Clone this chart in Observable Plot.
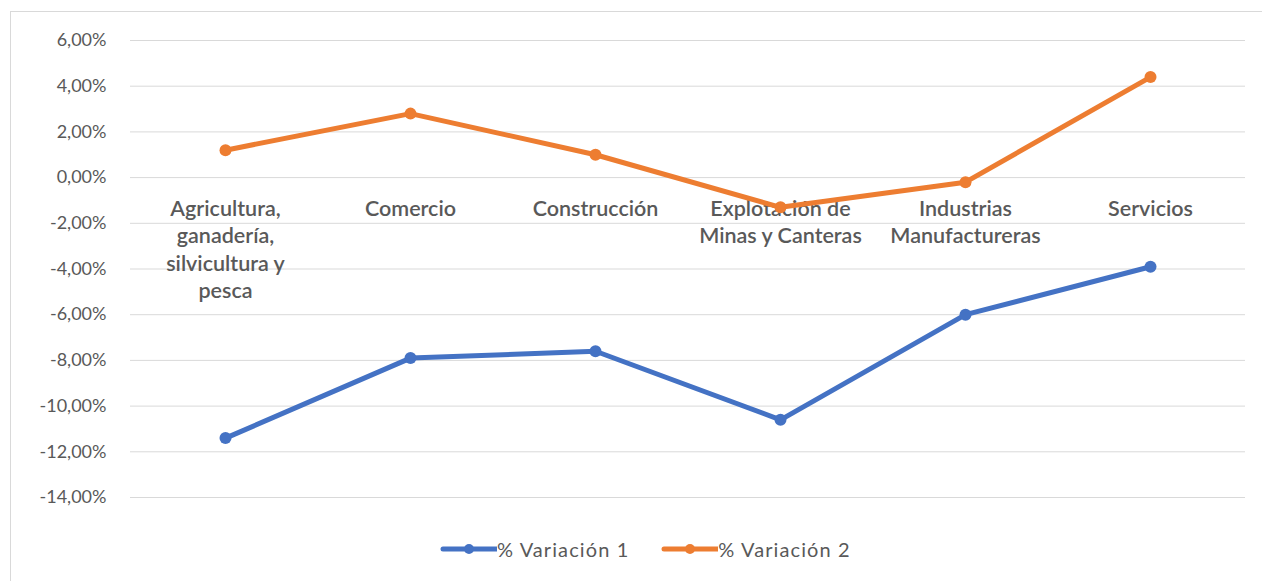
<!DOCTYPE html>
<html>
<head>
<meta charset="utf-8">
<script src="https://cdn.jsdelivr.net/npm/d3@7"></script>
<script src="https://cdn.jsdelivr.net/npm/@observablehq/plot@0.6"></script>
<style>
  body { margin: 0; background: #fff; font-family: Lato, "Open Sans", sans-serif; }
  #wrap { position: relative; width: 1262px; height: 581px; overflow: hidden; }
  #frame { position: absolute; left: 10px; top: 11px; width: 1270px; height: 600px; border: 1px solid #d9d9d9; pointer-events: none; }
  #chart { position: absolute; left: 0; top: 0; }
  #legend { position: absolute; left: 440px; top: 534px; display: flex; gap: 32px; font-size: 20px; letter-spacing: 1.1px; color: #595959; }
  .item { display: flex; align-items: center; }
  .item svg { display: block; }
</style>
</head>
<body>
<div id="wrap">
  <div id="chart"></div>
  <div id="frame"></div>
  <div id="legend"></div>
</div>
<script>
const categories = ["Agricultura, ganadería, silvicultura y pesca", "Comercio", "Construcción", "Explotación de Minas y Canteras", "Industrias Manufactureras", "Servicios"];
const categoryLabels = ["Agricultura,\nganadería,\nsilvicultura y\npesca", "Comercio", "Construcción", "Explotación de\nMinas y Canteras", "Industrias\nManufactureras", "Servicios"];
const variacion1 = [-11.4, -7.9, -7.6, -10.6, -6.0, -3.9];
const variacion2 = [1.2, 2.8, 1.0, -1.3, -0.2, 4.4];
const seriesNames = ["% Variación 1", "% Variación 2"];
const seriesColors = ["#4472C4", "#ED7D31"];
const yTicks = [6, 4, 2, 0, -2, -4, -6, -8, -10, -12, -14];

const data = [];
categories.forEach((c, i) => {
  data.push({ cat: c, value: variacion1[i], series: seriesNames[0] });
  data.push({ cat: c, value: variacion2[i], series: seriesNames[1] });
});
const labelData = categories.map((c, i) => ({ cat: c, label: categoryLabels[i] }));
const fmt = d => d.toFixed(2).replace(".", ",") + "%";

const chart = Plot.plot({
  width: 1262,
  height: 530,
  marginLeft: 130,
  marginRight: 17,
  marginTop: 40,
  marginBottom: 33,
  style: { fontFamily: "Lato, 'Open Sans', sans-serif", background: "transparent" },
  x: { type: "point", domain: categories, padding: 0.5, axis: null },
  y: { domain: [-14, 6], ticks: yTicks, tickFormat: fmt, label: null },
  color: { domain: seriesNames, range: seriesColors },
  marks: [
    Plot.gridY(yTicks, { stroke: "#d9d9d9", strokeOpacity: 1, strokeWidth: 1 }),
    Plot.axisY(yTicks, { tickSize: 0, tickPadding: 24, fontSize: 18, fill: "#595959", tickFormat: fmt, label: null }),
    Plot.text(labelData, { x: "cat", y: () => 0, text: "label", lineAnchor: "top", dy: 19, lineHeight: 1.27, fontSize: 21.5, fontWeight: 600, fill: "#595959" }),
    Plot.line(data, { x: "cat", y: "value", z: "series", stroke: "series", strokeWidth: 5, strokeLinejoin: "round", strokeLinecap: "round" }),
    Plot.dot(data, { x: "cat", y: "value", fill: "series", r: 6 })
  ]
});
document.getElementById("chart").appendChild(chart);

const legend = document.getElementById("legend");
seriesNames.forEach((name, i) => {
  const item = document.createElement("div");
  item.className = "item";
  item.innerHTML = `<svg width="57" height="30"><line x1="3" y1="15" x2="57" y2="15" stroke="${seriesColors[i]}" stroke-width="5" stroke-linecap="round"/><circle cx="29" cy="15" r="5" fill="${seriesColors[i]}"/></svg><span>${name}</span>`;
  legend.appendChild(item);
});
</script>
</body>
</html>
